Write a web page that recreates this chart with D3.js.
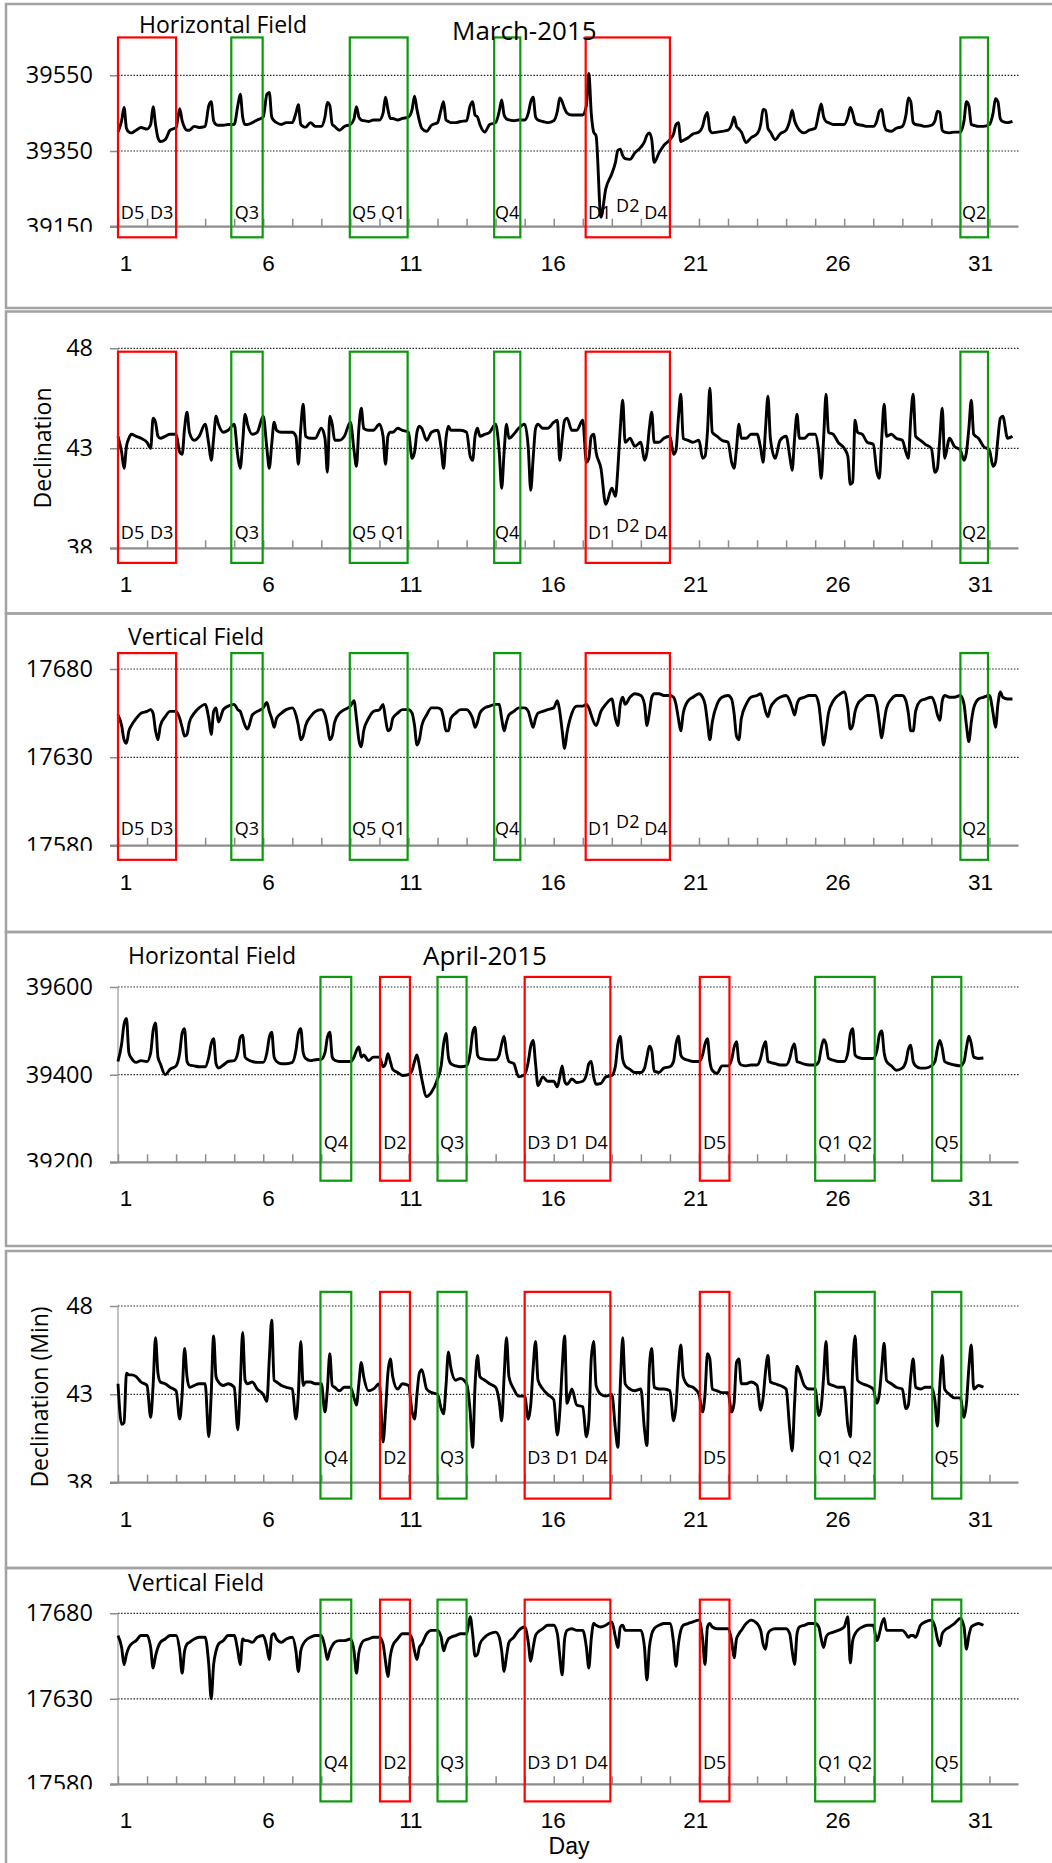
<!DOCTYPE html>
<html><head><meta charset="utf-8">
<script src="https://cdn.jsdelivr.net/npm/d3@7"></script>
<style>
body{margin:0;background:#fff}
svg{display:block}
text{font-family:"Open Sans","Liberation Sans",Arial,sans-serif;fill:#000}
</style>
</head><body>
<svg id="c" width="1052" height="1863"></svg>
<script>
// ---------- data ----------
// hour (UT) of each of the 8 readings per day
const sampleHours = [0, 3, 5, 7, 9, 11, 15, 19];
const dayLabels = [1, 6, 11, 16, 21, 26, 31];

// March-2015, Horizontal field (nT), 8 readings per day
const marchH = [
39400,39430,39465,39410,39400,39398,39405,39412,
39408,39420,39467,39420,39385,39375,39380,39405,
39412,39462,39430,39412,39405,39405,39415,39412,
39415,39470,39480,39430,39420,39418,39418,39420,
39420,39470,39500,39440,39420,39420,39425,39432,
39440,39500,39505,39440,39430,39425,39420,39425,
39425,39450,39472,39420,39415,39413,39425,39415,
39415,39440,39478,39470,39420,39415,39405,39415,
39420,39435,39467,39440,39432,39430,39428,39432,
39432,39450,39492,39460,39436,39436,39432,39436,
39440,39460,39495,39460,39430,39410,39402,39418,
39425,39460,39480,39432,39428,39425,39425,39428,
39430,39470,39480,39445,39440,39420,39400,39420,
39425,39455,39485,39445,39435,39432,39430,39432,
39432,39450,39480,39492,39440,39432,39428,39425,
39430,39455,39490,39480,39462,39450,39445,39445,
39445,39470,39555,39450,39400,39390,39175,39250,
39290,39320,39352,39355,39338,39330,39328,39345,
39360,39375,39392,39398,39380,39320,39345,39365,
39380,39395,39420,39425,39375,39378,39385,39395,
39400,39415,39440,39452,39405,39398,39400,39402,
39405,39420,39440,39415,39408,39400,39372,39385,
39395,39420,39460,39458,39410,39400,39380,39395,
39405,39430,39458,39430,39415,39405,39398,39405,
39410,39450,39474,39440,39428,39425,39420,39420,
39420,39440,39465,39450,39425,39420,39418,39415,
39415,39430,39455,39460,39420,39405,39402,39410,
39415,39445,39490,39480,39425,39420,39418,39415,
39418,39430,39455,39452,39405,39400,39398,39400,
39400,39430,39480,39470,39420,39418,39415,39415,
39420,39450,39488,39480,39435,39428,39425,39428];

// March-2015, Declination (min)
const marchD = [
43.6,42.8,42.0,43.1,43.5,43.7,43.6,43.5,
43.3,43.0,44.5,44.3,43.6,43.5,43.6,43.7,
43.7,42.8,42.7,44.0,44.8,43.8,43.4,43.6,
44.2,43.2,42.4,43.5,44.6,44.2,43.8,43.9,
44.2,42.6,42.0,43.3,44.7,44.2,43.7,43.8,
44.6,43.0,42.0,43.2,44.3,43.9,43.8,43.8,
43.8,43.6,42.2,44.0,45.2,43.6,43.5,43.5,
44.0,43.5,41.8,44.6,44.2,43.4,43.4,43.6,
44.3,42.9,42.1,44.0,45.0,44.0,43.9,43.9,
44.2,43.6,42.2,43.6,43.8,43.8,44.0,43.9,
43.8,42.5,42.8,43.8,44.1,44.0,43.4,43.8,
43.9,43.0,42.0,43.5,44.1,43.9,43.9,43.9,
43.8,42.6,42.4,43.6,44.0,43.6,43.7,43.8,
44.2,42.8,41.0,42.8,44.2,43.5,43.7,44.0,
44.2,43.0,40.9,42.5,44.0,44.2,44.0,44.0,
44.3,44.4,42.4,43.5,44.4,44.5,43.9,43.9,
44.4,42.3,42.5,43.6,43.7,42.8,42.0,40.2,
41.0,40.6,42.0,44.0,45.4,43.3,43.5,43.1,
43.3,42.4,42.8,44.0,44.8,43.3,43.3,43.5,
43.6,42.7,42.9,44.5,45.7,43.5,43.4,43.3,
43.4,42.5,42.6,43.8,46.0,43.8,43.6,43.4,
43.3,42.3,42.0,43.0,44.2,43.5,43.5,43.7,
43.7,43.0,42.3,44.0,45.6,43.5,42.5,43.4,
43.6,42.6,41.9,43.5,44.7,43.5,43.5,43.7,
43.7,42.8,41.5,43.5,45.7,43.8,43.7,43.3,
43.0,42.6,41.2,41.3,44.4,43.8,43.7,43.3,
43.2,41.8,41.5,43.5,45.2,43.6,43.7,43.5,
43.4,42.8,42.5,44.5,45.7,43.6,43.4,43.2,
43.0,41.8,42.0,43.5,45.0,42.5,43.5,43.1,
42.9,42.4,42.8,44.0,45.4,43.7,43.5,43.1,
42.9,42.1,42.3,43.5,44.5,44.6,43.5,43.6];

// March-2015, Vertical field (nT)
const marchZ = [
17654,17648,17640,17638,17645,17648,17652,17655,
17656,17657,17655,17645,17640,17648,17653,17656,
17656,17652,17647,17642,17643,17650,17655,17658,
17660,17652,17643,17656,17658,17650,17657,17659,
17660,17657,17656,17652,17648,17646,17654,17656,
17658,17661,17656,17652,17647,17652,17655,17657,
17658,17654,17648,17640,17642,17648,17653,17656,
17657,17654,17648,17640,17642,17650,17655,17657,
17659,17662,17652,17640,17636,17645,17652,17656,
17657,17660,17652,17645,17646,17652,17655,17657,
17657,17655,17648,17637,17640,17648,17654,17658,
17658,17657,17652,17645,17645,17652,17655,17657,
17657,17655,17652,17647,17650,17655,17658,17659,
17660,17660,17652,17645,17650,17654,17656,17658,
17658,17656,17651,17647,17652,17655,17656,17657,
17658,17662,17656,17645,17635,17644,17655,17659,
17659,17660,17658,17654,17650,17648,17656,17660,
17663,17652,17648,17660,17664,17660,17664,17666,
17665,17660,17648,17655,17664,17666,17666,17665,
17665,17664,17660,17652,17645,17655,17662,17664,
17666,17664,17660,17650,17640,17650,17660,17664,
17665,17663,17655,17642,17640,17652,17660,17664,
17665,17666,17662,17656,17653,17658,17662,17664,
17665,17662,17658,17654,17660,17663,17664,17665,
17665,17660,17648,17637,17645,17655,17662,17665,
17667,17658,17646,17648,17656,17660,17663,17665,
17665,17660,17650,17641,17650,17658,17663,17665,
17665,17662,17655,17645,17645,17656,17662,17663,
17664,17660,17654,17651,17662,17665,17664,17664,
17665,17660,17648,17639,17650,17658,17663,17664,
17665,17655,17647,17660,17667,17664,17663,17663];

// April-2015, Horizontal field (nT)
const aprilH = [
39430,39470,39515,39528,39450,39438,39428,39432,
39430,39450,39500,39518,39440,39425,39400,39412,
39420,39450,39495,39505,39430,39422,39420,39418,
39418,39440,39470,39482,39425,39415,39422,39430,
39432,39450,39485,39490,39440,39435,39430,39428,
39428,39450,39485,39497,39440,39430,39425,39425,
39428,39455,39495,39505,39450,39437,39432,39434,
39435,39450,39485,39497,39440,39433,39430,39430,
39430,39440,39455,39463,39440,39445,39432,39440,
39440,39418,39425,39448,39430,39412,39405,39398,
39400,39410,39430,39445,39420,39390,39350,39360,
39390,39420,39470,39494,39440,39425,39420,39418,
39420,39450,39495,39508,39445,39437,39435,39434,
39434,39445,39470,39488,39450,39430,39425,39395,
39400,39430,39465,39478,39425,39375,39395,39385,
39385,39372,39395,39420,39385,39378,39390,39382,
39385,39400,39425,39430,39395,39378,39380,39395,
39398,39420,39470,39487,39435,39420,39412,39405,
39405,39415,39440,39465,39455,39408,39405,39415,
39418,39430,39470,39488,39445,39437,39433,39430,
39430,39445,39470,39482,39430,39410,39403,39420,
39420,39435,39462,39475,39430,39422,39420,39422,
39422,39438,39462,39475,39430,39428,39425,39422,
39422,39437,39460,39470,39430,39428,39424,39422,
39422,39430,39460,39480,39470,39437,39433,39430,
39430,39450,39492,39505,39445,39440,39437,39437,
39437,39455,39490,39500,39450,39430,39420,39410,
39415,39430,39458,39467,39430,39420,39415,39415,
39420,39430,39460,39478,39460,39430,39425,39422,
39420,39430,39462,39488,39470,39440,39437,39438];

// April-2015, Declination (min)
const aprilD = [
43.6,41.3,41.4,44.2,44.1,44.1,44.0,43.7,
43.5,41.7,43.5,46.2,44.2,43.7,43.6,43.4,
43.2,41.6,43.0,45.6,44.0,43.4,43.5,43.6,
43.6,40.6,43.0,46.3,44.0,43.7,43.5,43.6,
43.4,41.0,43.5,46.5,43.8,43.6,43.7,43.3,
43.0,42.6,45.0,47.2,43.8,43.7,43.5,43.4,
43.3,41.6,43.0,46.0,43.5,43.7,43.7,43.6,
43.6,42.0,43.3,45.3,43.5,43.4,43.2,43.4,
43.4,42.8,42.4,43.6,44.8,44.0,43.2,43.3,
43.6,40.3,42.0,44.2,45.0,44.0,43.3,43.6,
43.5,42.0,41.6,43.0,44.2,44.4,43.3,43.1,
43.0,42.2,41.9,43.5,45.4,44.5,43.8,43.9,
43.6,42.0,40.0,43.5,45.2,44.0,43.8,43.6,
43.4,42.6,41.5,44.0,46.2,44.0,43.3,42.9,
42.9,41.6,42.4,44.5,46.0,43.8,43.3,43.0,
42.7,40.7,42.0,44.5,46.3,42.5,43.3,42.4,
42.3,40.6,41.5,45.0,46.0,43.5,43.0,42.9,
43.0,41.0,40.0,43.5,46.2,43.6,43.3,43.2,
43.3,41.0,40.1,44.5,45.6,43.4,43.3,43.3,
43.2,41.5,42.3,44.5,45.8,44.0,43.5,43.4,
43.0,42.0,43.0,45.3,45.0,43.3,43.2,43.1,
43.1,42.0,42.5,44.8,45.0,43.6,43.6,43.7,
43.5,42.1,42.8,44.3,45.2,43.7,43.6,43.5,
43.3,41.0,39.8,42.5,44.6,44.3,43.5,43.3,
43.3,41.8,42.3,44.0,46.0,43.6,43.5,43.4,
43.4,41.2,40.6,44.5,46.3,43.8,43.6,43.5,
43.3,42.5,43.0,44.5,45.9,43.8,43.6,43.4,
43.3,42.2,42.4,44.0,45.0,43.4,43.3,43.4,
43.4,42.6,41.2,43.5,45.2,43.3,43.0,42.8,
42.8,41.7,42.5,44.5,45.8,43.3,43.5,43.4];

// April-2015, Vertical field (nT)
const aprilZ = [
17667,17660,17650,17656,17660,17662,17664,17667,
17667,17660,17648,17655,17660,17663,17665,17667,
17667,17658,17645,17658,17662,17663,17665,17666,
17666,17650,17630,17650,17658,17662,17664,17667,
17667,17658,17650,17665,17664,17664,17663,17666,
17667,17660,17653,17667,17668,17665,17663,17665,
17666,17658,17646,17658,17662,17664,17666,17667,
17667,17660,17653,17658,17661,17663,17664,17664,
17665,17658,17645,17657,17662,17664,17665,17666,
17666,17662,17652,17643,17655,17661,17665,17668,
17668,17665,17658,17653,17660,17662,17668,17670,
17670,17666,17658,17662,17665,17666,17667,17668,
17668,17678,17668,17655,17656,17662,17666,17668,
17669,17666,17658,17646,17655,17663,17666,17670,
17672,17663,17652,17660,17667,17669,17671,17673,
17673,17668,17655,17644,17665,17670,17671,17670,
17670,17660,17648,17665,17674,17673,17672,17673,
17675,17666,17660,17672,17673,17670,17670,17670,
17670,17660,17641,17660,17668,17671,17673,17674,
17674,17663,17649,17662,17670,17673,17674,17675,
17676,17665,17650,17672,17674,17672,17671,17671,
17671,17664,17654,17665,17668,17670,17674,17676,
17674,17670,17662,17659,17668,17670,17671,17671,
17671,17668,17658,17650,17668,17672,17673,17674,
17674,17672,17665,17660,17666,17668,17669,17670,
17672,17678,17651,17664,17668,17670,17672,17673,
17673,17664,17668,17674,17677,17670,17670,17670,
17670,17668,17666,17667,17667,17666,17673,17675,
17676,17672,17665,17661,17668,17670,17672,17674,
17677,17672,17659,17667,17672,17673,17674,17673];

// quiet (Q) and disturbed (D) day boxes: start/end in days from month start
const marchBoxes = [
  {start:0.0,  end:2.0,   kind:"D", labels:["D5","D3"]},
  {start:3.9,  end:4.98,  kind:"Q", labels:["Q3"]},
  {start:7.98, end:9.97,  kind:"Q", labels:["Q5","Q1"]},
  {start:12.95,end:13.85, kind:"Q", labels:["Q4"]},
  {start:16.1, end:19.0,  kind:"D", labels:["D1","D2","D4"]},
  {start:29.0, end:29.95, kind:"Q", labels:["Q2"]}
];
const aprilBoxes = [
  {start:6.97, end:8.03,  kind:"Q", labels:["Q4"]},
  {start:9.02, end:10.05, kind:"D", labels:["D2"]},
  {start:11.0, end:12.0,  kind:"Q", labels:["Q3"]},
  {start:14.0, end:16.95, kind:"D", labels:["D3","D1","D4"]},
  {start:20.03,end:21.05, kind:"D", labels:["D5"]},
  {start:24.0, end:26.05, kind:"Q", labels:["Q1","Q2"]},
  {start:28.03,end:29.03, kind:"Q", labels:["Q5"]}
];

const hTicksMarch = [39150, 39350, 39550];
const hTicksApril = [39200, 39400, 39600];
const dTicks = [38, 43, 48];
const zTicks = [17580, 17630, 17680];

// ---------- layout ----------
const panels = [
  {data:marchH, boxes:marchBoxes, ticks:hTicksMarch, y0:226.7, y2:75.3, axisTop:39600,
   bTop:4, bBot:308, boxVals:[39650,39122], labelVal:39189, month:true,
   title:{text:"Horizontal Field", x:139, y:33}, big:{text:"March-2015", x:452, y:40}},
  {data:marchD, boxes:marchBoxes, ticks:dTicks, y0:548.3, y2:348.3, axisTop:48,
   bTop:311.5, bBot:613.5, boxVals:[47.83,37.27], labelVal:38.8, month:true,
   ylab:{text:"Declination", x:42, y:448}},
  {data:marchZ, boxes:marchBoxes, ticks:zTicks, y0:845.7, y2:669, axisTop:17682,
   bTop:613.5, bBot:932, boxVals:[17689,17572], labelVal:17590, month:true,
   title:{text:"Vertical Field", x:128, y:645}},
  {data:aprilH, boxes:aprilBoxes, ticks:hTicksApril, y0:1162.3, y2:987, axisTop:39600,
   bTop:932, bBot:1246, boxVals:[39623,39158], labelVal:39246,
   title:{text:"Horizontal Field", x:128, y:964}, big:{text:"April-2015", x:423, y:965}},
  {data:aprilD, boxes:aprilBoxes, ticks:dTicks, y0:1482.7, y2:1306, axisTop:48,
   bTop:1251, bBot:1568, boxVals:[48.8,37.1], labelVal:39.45,
   ylab:{text:"Declination (Min)", x:39, y:1397}},
  {data:aprilZ, boxes:aprilBoxes, ticks:zTicks, y0:1784.3, y2:1613.3, axisTop:17680,
   bTop:1568, bBot:1900, boxVals:[17688,17570], labelVal:17593,
   title:{text:"Vertical Field", x:128, y:1591}, xlab:{text:"Day", x:569, y:1854}}
];

const FONT = "Open Sans, Liberation Sans, Arial, sans-serif";
const FONT2 = "Liberation Sans, Arial, sans-serif";
const svg = d3.select("#c");
const x = d3.scaleLinear().domain([0, 31]).range([118, 1018.5]);
const xl = d3.scalePoint().domain(dayLabels).range([125.5, 980]);
const boxColor = {D:"#ff0000", Q:"#0b9a0b"};
const line = (y) => d3.line().curve(d3.curveMonotoneX).x(d => x(d.t)).y(d => y(d.v));

panels.forEach((p, pi) => {
  const g = svg.append("g");
  const y = d3.scaleLinear().domain([p.ticks[0], p.ticks[2]]).range([p.y0, p.y2]);

  // panel frame
  g.append("rect").attr("x", 6).attr("y", p.bTop).attr("width", 1100)
    .attr("height", p.bBot - p.bTop).attr("fill", "none")
    .attr("stroke", "#a3a3a3").attr("stroke-width", 2.5);

  // dotted gridlines
  g.selectAll("line.grid").data(p.ticks.slice(1)).join("line")
    .attr("x1", 118).attr("x2", x(31)).attr("y1", d => y(d)).attr("y2", d => y(d))
    .attr("stroke", "#222").attr("stroke-width", 1.2).attr("stroke-dasharray", "1.5,1.6");

  // y axis
  svg.append("clipPath").attr("id", "yc" + pi).append("rect")
    .attr("x", 0).attr("y", p.bTop).attr("width", 118).attr("height", p.y0 + 5 - p.bTop);
  const yg = g.append("g").attr("clip-path", "url(#yc" + pi + ")").append("g")
    .attr("transform", "translate(118,0)")
    .call(d3.axisLeft(y).tickValues(p.ticks).tickSize(8).tickSizeOuter(0).tickPadding(17).tickFormat(d3.format("d")));
  yg.select(".domain").remove();
  yg.selectAll(".tick line").attr("stroke", "#8c8c8c").attr("stroke-width", 1.5);
  yg.selectAll(".tick text").style("font-size", "23.5px").style("font-family", FONT).attr("fill", "#000");
  g.append("line").attr("x1", 118).attr("x2", 118).attr("y1", y(p.axisTop)).attr("y2", p.y0)
    .attr("stroke", "#a0a0a0").attr("stroke-width", 1.3);

  // x axis
  g.append("line").attr("x1", 110).attr("x2", x(31)).attr("y1", p.y0).attr("y2", p.y0)
    .attr("stroke", "#8c8c8c").attr("stroke-width", 2.2);
  const xg = g.append("g").attr("transform", `translate(0,${p.y0})`)
    .call(d3.axisBottom(x).tickValues(d3.range(0, 31)).tickSize(-8).tickSizeOuter(0).tickFormat(""));
  xg.select(".domain").remove();
  xg.selectAll(".tick line").attr("stroke", "#8c8c8c").attr("stroke-width", 1.5);
  const xlg = g.append("g").attr("transform", `translate(0,${p.y0 + 36})`)
    .call(d3.axisBottom(xl).tickSize(0).tickPadding(0));
  xlg.select(".domain").remove();
  xlg.selectAll(".tick text").attr("y", 8).attr("dy", null)
    .style("font-size", "22.5px").style("font-family", FONT2).attr("fill", "#000");

  // data line
  const series = p.data.map((v, i) => ({t: Math.floor(i / sampleHours.length) + sampleHours[i % sampleHours.length] / 24, v}));
  g.append("path").datum(series).attr("d", line(y))
    .attr("fill", "none").attr("stroke", "#000").attr("stroke-width", 2.9)
    .attr("stroke-linejoin", "round");

  // Q / D boxes
  g.selectAll("rect.box").data(p.boxes).join("rect")
    .attr("x", d => x(d.start)).attr("width", d => x(d.end) - x(d.start))
    .attr("y", y(p.boxVals[0])).attr("height", y(p.boxVals[1]) - y(p.boxVals[0]))
    .attr("fill", "none").attr("stroke", d => boxColor[d.kind]).attr("stroke-width", 2.2);
  p.boxes.forEach(b => {
    const x0 = x(b.start), w = x(b.end) - x0, n = b.labels.length;
    b.labels.forEach((lab, i) => {
      const raise = (p.month && lab === "D2") ? 7 : 0;
      g.append("text").attr("x", x0 + w * (i + 0.5) / n).attr("y", y(p.labelVal) - raise)
        .attr("text-anchor", "middle").attr("dominant-baseline", "central")
        .style("font-size", "18px").text(lab);
    });
  });

  // titles
  if (p.title) g.append("text").attr("x", p.title.x).attr("y", p.title.y)
    .style("font-size", "23px").text(p.title.text);
  if (p.big) g.append("text").attr("x", p.big.x).attr("y", p.big.y)
    .style("font-size", "26px").text(p.big.text);
  if (p.ylab) g.append("text").attr("transform", `translate(${p.ylab.x},${p.ylab.y}) rotate(-90)`)
    .attr("text-anchor", "middle").attr("dominant-baseline", "central")
    .style("font-size", "23px").text(p.ylab.text);
  if (p.xlab) g.append("text").attr("x", p.xlab.x).attr("y", p.xlab.y)
    .attr("text-anchor", "middle")
    .style("font-size", "23px").style("font-family", FONT2).text(p.xlab.text);
});
</script>
</body></html>
